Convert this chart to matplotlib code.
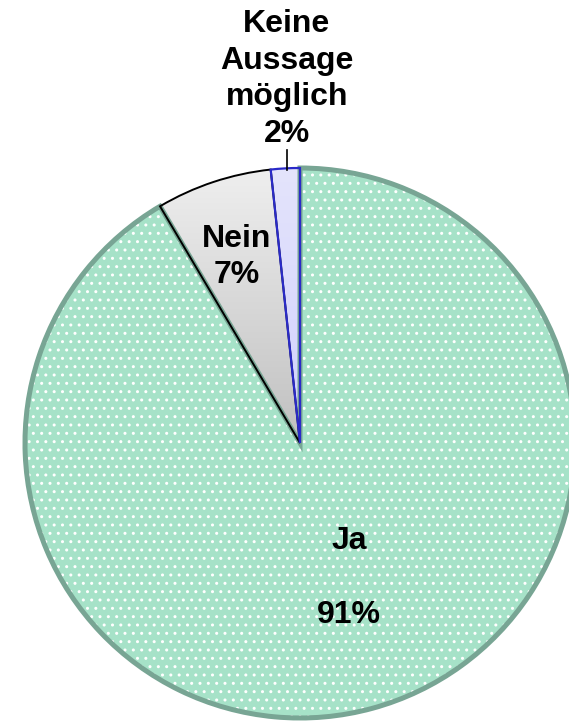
import matplotlib
matplotlib.use("Agg")
import matplotlib.pyplot as plt
import numpy as np
from matplotlib.patches import Wedge

labels = ["Keine\nAussage\nmöglich", "Nein", "Ja"]
values = [1.7, 6.8, 91.5]
pct_labels = ["2%", "7%", "91%"]

face_colors = ["#dcdcfa", "#e2e2e2", "#a6e2c8"]
edge_colors = ["#2a2ac8", "#000000", "#78a594"]
edge_widths = [1.6, 1.4, 3.6]

W, H = 569, 721
fig = plt.figure(figsize=(W / 100, H / 100), dpi=100)
ax = fig.add_axes([0, 0, 1, 1])

cx, cy, r = 300, H - 443, 275

wedges, _ = ax.pie(values, startangle=90, counterclock=True,
                   colors=face_colors, center=(cx, cy), radius=r,
                   wedgeprops=dict(linewidth=0))
ax.set_xlim(0, W)
ax.set_ylim(0, H)
ax.set_aspect("equal")
ax.axis("off")

# gradients for Keine and Nein
grad_specs = {0: ("#d0d0ff", "#e4e4fb"), 1: ("#c0c0c0", "#efefef")}
for i, (c_lo, c_hi) in grad_specs.items():
    w = wedges[i]
    w.set_facecolor("none")
    c1 = np.array(matplotlib.colors.to_rgb(c_lo))
    c2 = np.array(matplotlib.colors.to_rgb(c_hi))
    t = np.linspace(0, 1, 256)[:, None]
    img = (c1 * (1 - t) + c2 * t)[:, None, :]
    im = ax.imshow(img, extent=[cx - r, cx + r, cy, cy + r], origin="lower",
                   aspect="auto", zorder=0.5)
    im.set_clip_path(w)

# white dot pattern over Ja
plt.rcParams["hatch.linewidth"] = 1.0
ja = wedges[2]
hatch = Wedge((cx, cy), r, ja.theta1, ja.theta2, facecolor="none",
              edgecolor="white", hatch="..", linewidth=0, zorder=1.5)
ax.add_patch(hatch)

# outlines
for i in [2, 1, 0]:
    w = wedges[i]
    o = Wedge((cx, cy), r, w.theta1, w.theta2, facecolor="none",
              edgecolor=edge_colors[i], linewidth=edge_widths[i], zorder=3 + (2 - i))
    ax.add_patch(o)

font = dict(family=["Liberation Sans", "DejaVu Sans"], fontweight="bold",
            fontsize=23, color="black", ha="center", va="center", linespacing=1.3)

ax.text(287, H - 79, labels[0] + "\n" + pct_labels[0], **font)
ax.plot([287, 287], [H - 150, H - 170], color="black", lw=1.2, zorder=6)

ax.text(237, H - 257, labels[1] + "\n" + pct_labels[1], **font, zorder=7)
ax.text(349, H - 578, labels[2] + "\n\n" + pct_labels[2], **font, zorder=7)

fig.savefig("out.png", dpi=100)
